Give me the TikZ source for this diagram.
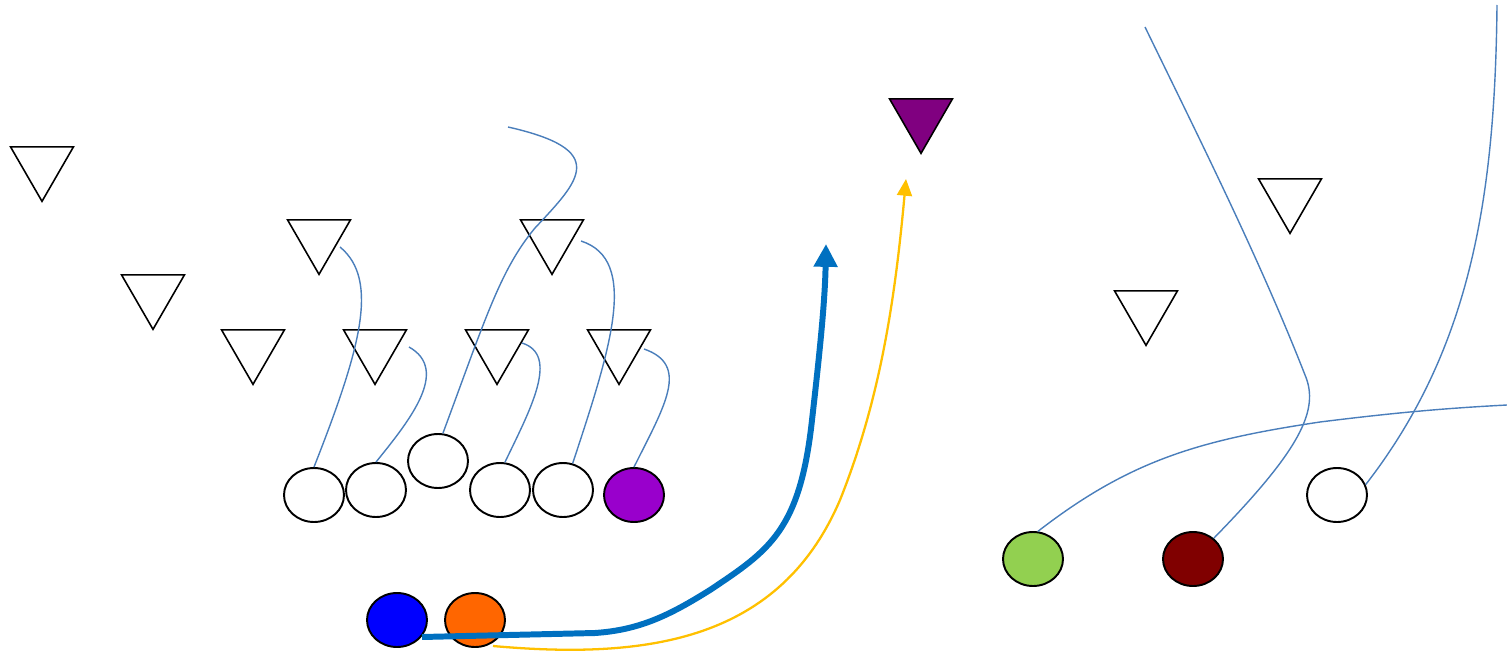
\documentclass[tikz,border=0pt]{standalone}
\usetikzlibrary{shapes.geometric,arrows.meta}
\definecolor{route}{HTML}{4A7EBB}
\definecolor{runblue}{HTML}{0070C0}
\definecolor{passyellow}{HTML}{FFC000}
\definecolor{dpurple}{HTML}{800080}
\definecolor{opurple}{HTML}{9900CC}
\definecolor{oorange}{HTML}{FF6600}
\definecolor{ogreen}{HTML}{92D050}
\definecolor{odred}{HTML}{800000}
\begin{document}
\begin{tikzpicture}[x=0.02cm,y=-0.02cm,
  player/.style={ellipse,draw=black,line width=1.1pt,minimum width=1.2cm,minimum height=1.08cm,inner sep=0pt,fill=white},
  defender/.style={regular polygon,regular polygon sides=3,shape border rotate=180,draw=black,line width=0.9pt,minimum size=1.454cm,inner sep=0pt},
  rt/.style={draw=route,line width=0.8pt},
  runpath/.style={draw=runblue,line width=3.4pt,-{Triangle[length=13pt,width=13pt]}},
  passpath/.style={draw=passyellow,line width=1.3pt,-{Triangle[length=9.5pt,width=8.5pt]}}
]
\useasboundingbox (0,0) rectangle (1507,652);

% defenders
\node[defender] (t1) at (42,165) {};
\node[defender] (t2) at (153,293) {};
\node[defender] (t3) at (253,348) {};
\node[defender] (t4) at (319,238) {};
\node[defender] (t5) at (375,348) {};
\node[defender] (t6) at (552,238) {};
\node[defender] (t7) at (497,348) {};
\node[defender] (t8) at (619,348) {};
\node[defender,fill=dpurple] (tp) at (921,117) {};
\node[defender] (t9) at (1290,197) {};
\node[defender] (t10) at (1146,309) {};

% offense
\node[player] (o1) at (314,495) {};
\node[player] (o2) at (376,490) {};
\node[player] (o3) at (438,461) {};
\node[player] (o4) at (500,490) {};
\node[player] (o5) at (563,490) {};
\node[player,fill=opurple] (o6) at (634,495) {};
\node[player,fill=blue] (qb) at (397,620) {};
\node[player,fill=oorange] (rb) at (475,620) {};
\node[player,fill=ogreen] (g) at (1033,559) {};
\node[player,fill=odred] (dr) at (1193,559) {};
\node[player] (wr) at (1337,495) {};

% route ends
\coordinate (e1) at (340,247);
\coordinate (e2) at (409,347);
\coordinate (e3) at (508,127);
\coordinate (e4) at (522,343);
\coordinate (e5) at (581,241);
\coordinate (e6) at (644,349);
\coordinate (e7) at (1145,27);
\coordinate (e8) at (1497,5);
\coordinate (e9) at (1507,405);
\coordinate (rs) at (422,637);
\coordinate (ps) at (493,646);
\coordinate (re) at (826,244);
\coordinate (pe) at (906,179);

% routes
\draw[rt] (o1.north) .. controls (360,350) and (380,280) .. (e1);
\draw[rt] (o2.north) .. controls (410,420) and (450,370) .. (e2);
\draw[rt] (o3.80) .. controls (485,320) and (500,270) .. (535,228) .. controls (580,180) and (610,150) .. (e3);
\draw[rt] (o4.80) .. controls (530,410) and (560,355) .. (e4);
\draw[rt] (o5.70) .. controls (610,350) and (640,260) .. (e5);
\draw[rt] (o6.north) .. controls (665,405) and (690,365) .. (e6);
\draw[rt] (dr.45) .. controls (1300,450) and (1320,410) .. (1305,375) .. controls (1260,260) and (1200,140) .. (e7);
\draw[rt] (wr.20) .. controls (1470,350) and (1495,200) .. (e8);
\draw[rt] (g.80) .. controls (1130,460) and (1200,440) .. (1320,422) .. controls (1400,412) and (1450,408) .. (e9);

% run and pass
\draw[runpath] (rs) -- (595,633) .. controls (640,630) and (670,615) .. (710,590) .. controls (770,550) and (800,530) .. (812,420) .. controls (820,350) and (825,300) .. (re);
\draw[passpath] (ps) .. controls (650,660) and (780,640) .. (840,500) .. controls (880,400) and (895,300) .. (pe);
\end{tikzpicture}
\end{document}
